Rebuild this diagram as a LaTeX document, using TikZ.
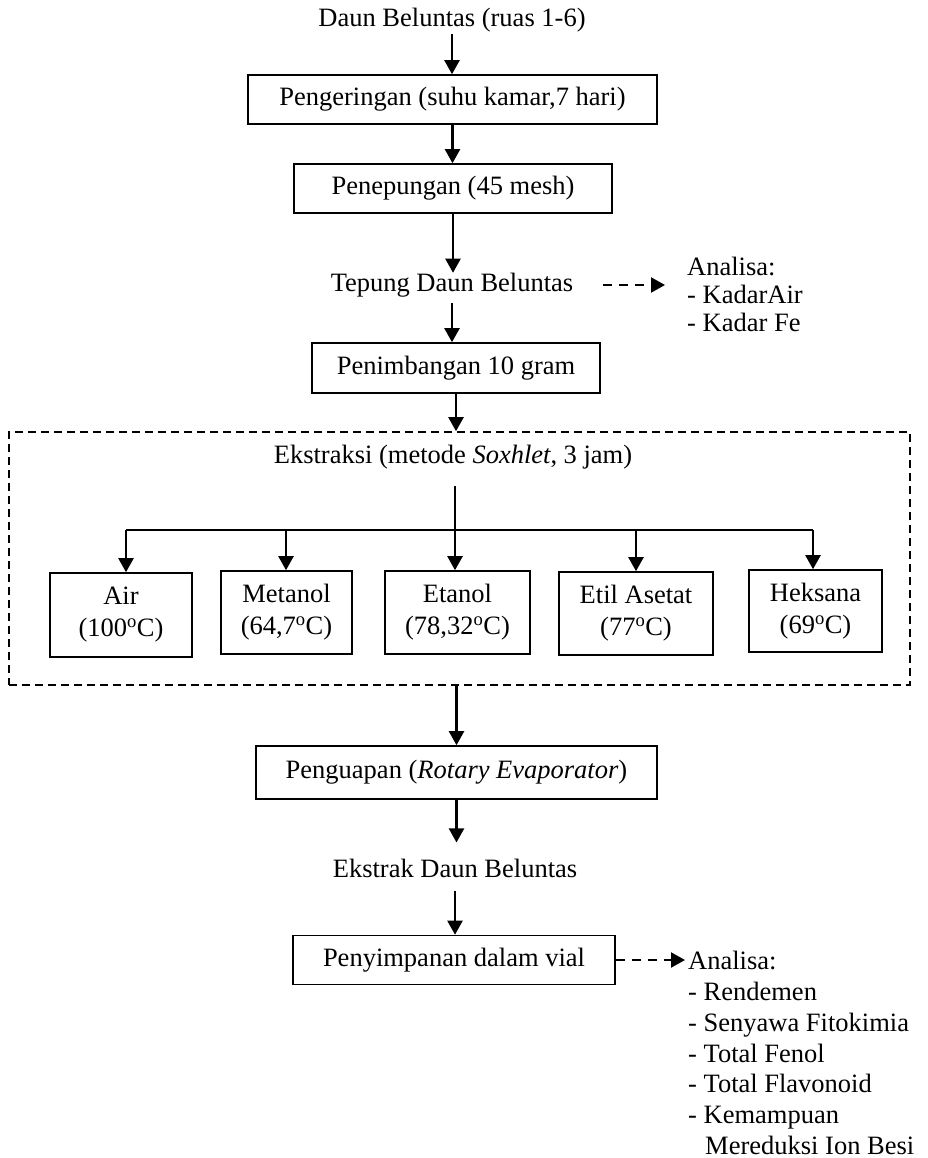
\documentclass[tikz,border=0pt]{standalone}
\usepackage{fontspec}
\setmainfont{Liberation Serif}
\usetikzlibrary{arrows.meta}
\tikzset{
  base/.style={font=\fontsize{26.5}{31}\selectfont},
  procbox/.style={base, draw, line width=1.6pt, minimum height=49pt, inner sep=0pt, align=center},
  solv/.style={procbox, font=\fontsize{26.5}{32}\selectfont, minimum height=83pt},
  txt/.style={base, inner sep=0pt},
  flow/.style={line width=2.2pt, -{Triangle[length=14pt,width=15pt]}},
  dflow/.style={flow, dash pattern=on 9pt off 7pt},
  bus/.style={line width=1.4pt},
  extbox/.style={draw, line width=1.6pt, dash pattern=on 8pt off 5pt, inner sep=0pt}
}
\begin{document}
\begin{tikzpicture}[x=1pt,y=-1pt]
\useasboundingbox (0,0) rectangle (928,1158);

\node[txt] (n0) at (452,20) {Daun Beluntas (ruas 1-6)};
\node[procbox, minimum width=409pt] (n1) at (452.5,99.5) {Pengeringan (suhu kamar,7 hari)};
\node[procbox, minimum width=318pt] (n2) at (453,188.5) {Penepungan (45 mesh)};
\node[txt] (n3) at (452,285) {Tepung Daun Beluntas};
\node[txt, anchor=west, align=left, font=\fontsize{26.5}{28}\selectfont] (a1) at (687,294) {Analisa:\\- KadarAir\\- Kadar Fe};
\node[procbox, minimum width=288pt, minimum height=50pt] (n4) at (456,368) {Penimbangan 10 gram};

\node[extbox, minimum width=901pt, minimum height=253pt] (ext) at (459.5,558.5) {};
\node[txt] (n5) at (453,457) {Ekstraksi (metode \textit{Soxhlet}, 3 jam)};

\node[solv, minimum width=142pt, minimum height=84pt] (s1) at (121,615) {Air\\(100\textsuperscript{o}C)};
\node[solv, minimum width=131pt] (s2) at (286.5,612.5) {Metanol\\(64,7\textsuperscript{o}C)};
\node[solv, minimum width=145pt] (s3) at (457.5,612.5) {Etanol\\(78,32\textsuperscript{o}C)};
\node[solv, minimum width=154pt] (s4) at (636,613.5) {Etil Asetat\\(77\textsuperscript{o}C)};
\node[solv, minimum width=133pt, minimum height=82pt] (s5) at (815.5,611) {Heksana\\(69\textsuperscript{o}C)};

\coordinate (h0) at (455,486);
\coordinate (c1) at (126,530);
\coordinate (c2) at (286,530);
\coordinate (c4) at (636,530);
\coordinate (c5) at (813,530);

\node[procbox, minimum width=401pt, minimum height=53pt] (n6) at (456.5,772.5) {Penguapan (\textit{Rotary Evaporator})};
\node[txt] (n7) at (455,868) {Ekstrak Daun Beluntas};
\node[procbox, minimum width=322pt, minimum height=49pt] (n8) at (454,960) {Penyimpanan dalam vial};
\node[txt, anchor=west, align=left, font=\fontsize{26.5}{30.8}\selectfont] (a2) at (688,1053) {Analisa:\\- Rendemen\\- Senyawa Fitokimia\\- Total Fenol\\- Total Flavonoid\\- Kemampuan\\\hspace*{17pt}Mereduksi Ion Besi};

% main flow
\draw[flow, shorten <=2pt] (n0.south) -- (n0.south |- n1.north);
\draw[flow] (n1.south) -- (n1.south |- n2.north);
\draw[flow] (n2.south) -- (n2.south |- n3.north);
\draw[flow, shorten <=6pt] (n3.south) -- (n3.south |- n4.north);
\draw[flow] (n4.south) -- (n4.south |- ext.north);
\draw[dflow, shorten <=30pt, shorten >=22pt] (n3.east) -- (n3.east -| a1.west);

% extraction branches
\draw[bus] (c1) -- (c5);
\draw[flow] (h0) -- (h0 |- s3.north);
\draw[flow] (c1) -- (c1 |- s1.north);
\draw[flow] (c2) -- (c2 |- s2.north);
\draw[flow] (c4) -- (c4 |- s4.north);
\draw[flow] (c5) -- (c5 |- s5.north);

% lower flow
\draw[flow] (ext.south -| n6.north) -- (n6.north);
\draw[flow, shorten >=16pt] (n6.south) -- (n6.south |- n7.north);
\draw[flow, shorten <=13pt] (n7.south) -- (n7.south |- n8.north);
\draw[dflow, shorten >=3pt] (n8.east) -- (n8.east -| a2.west);
\end{tikzpicture}
\end{document}
